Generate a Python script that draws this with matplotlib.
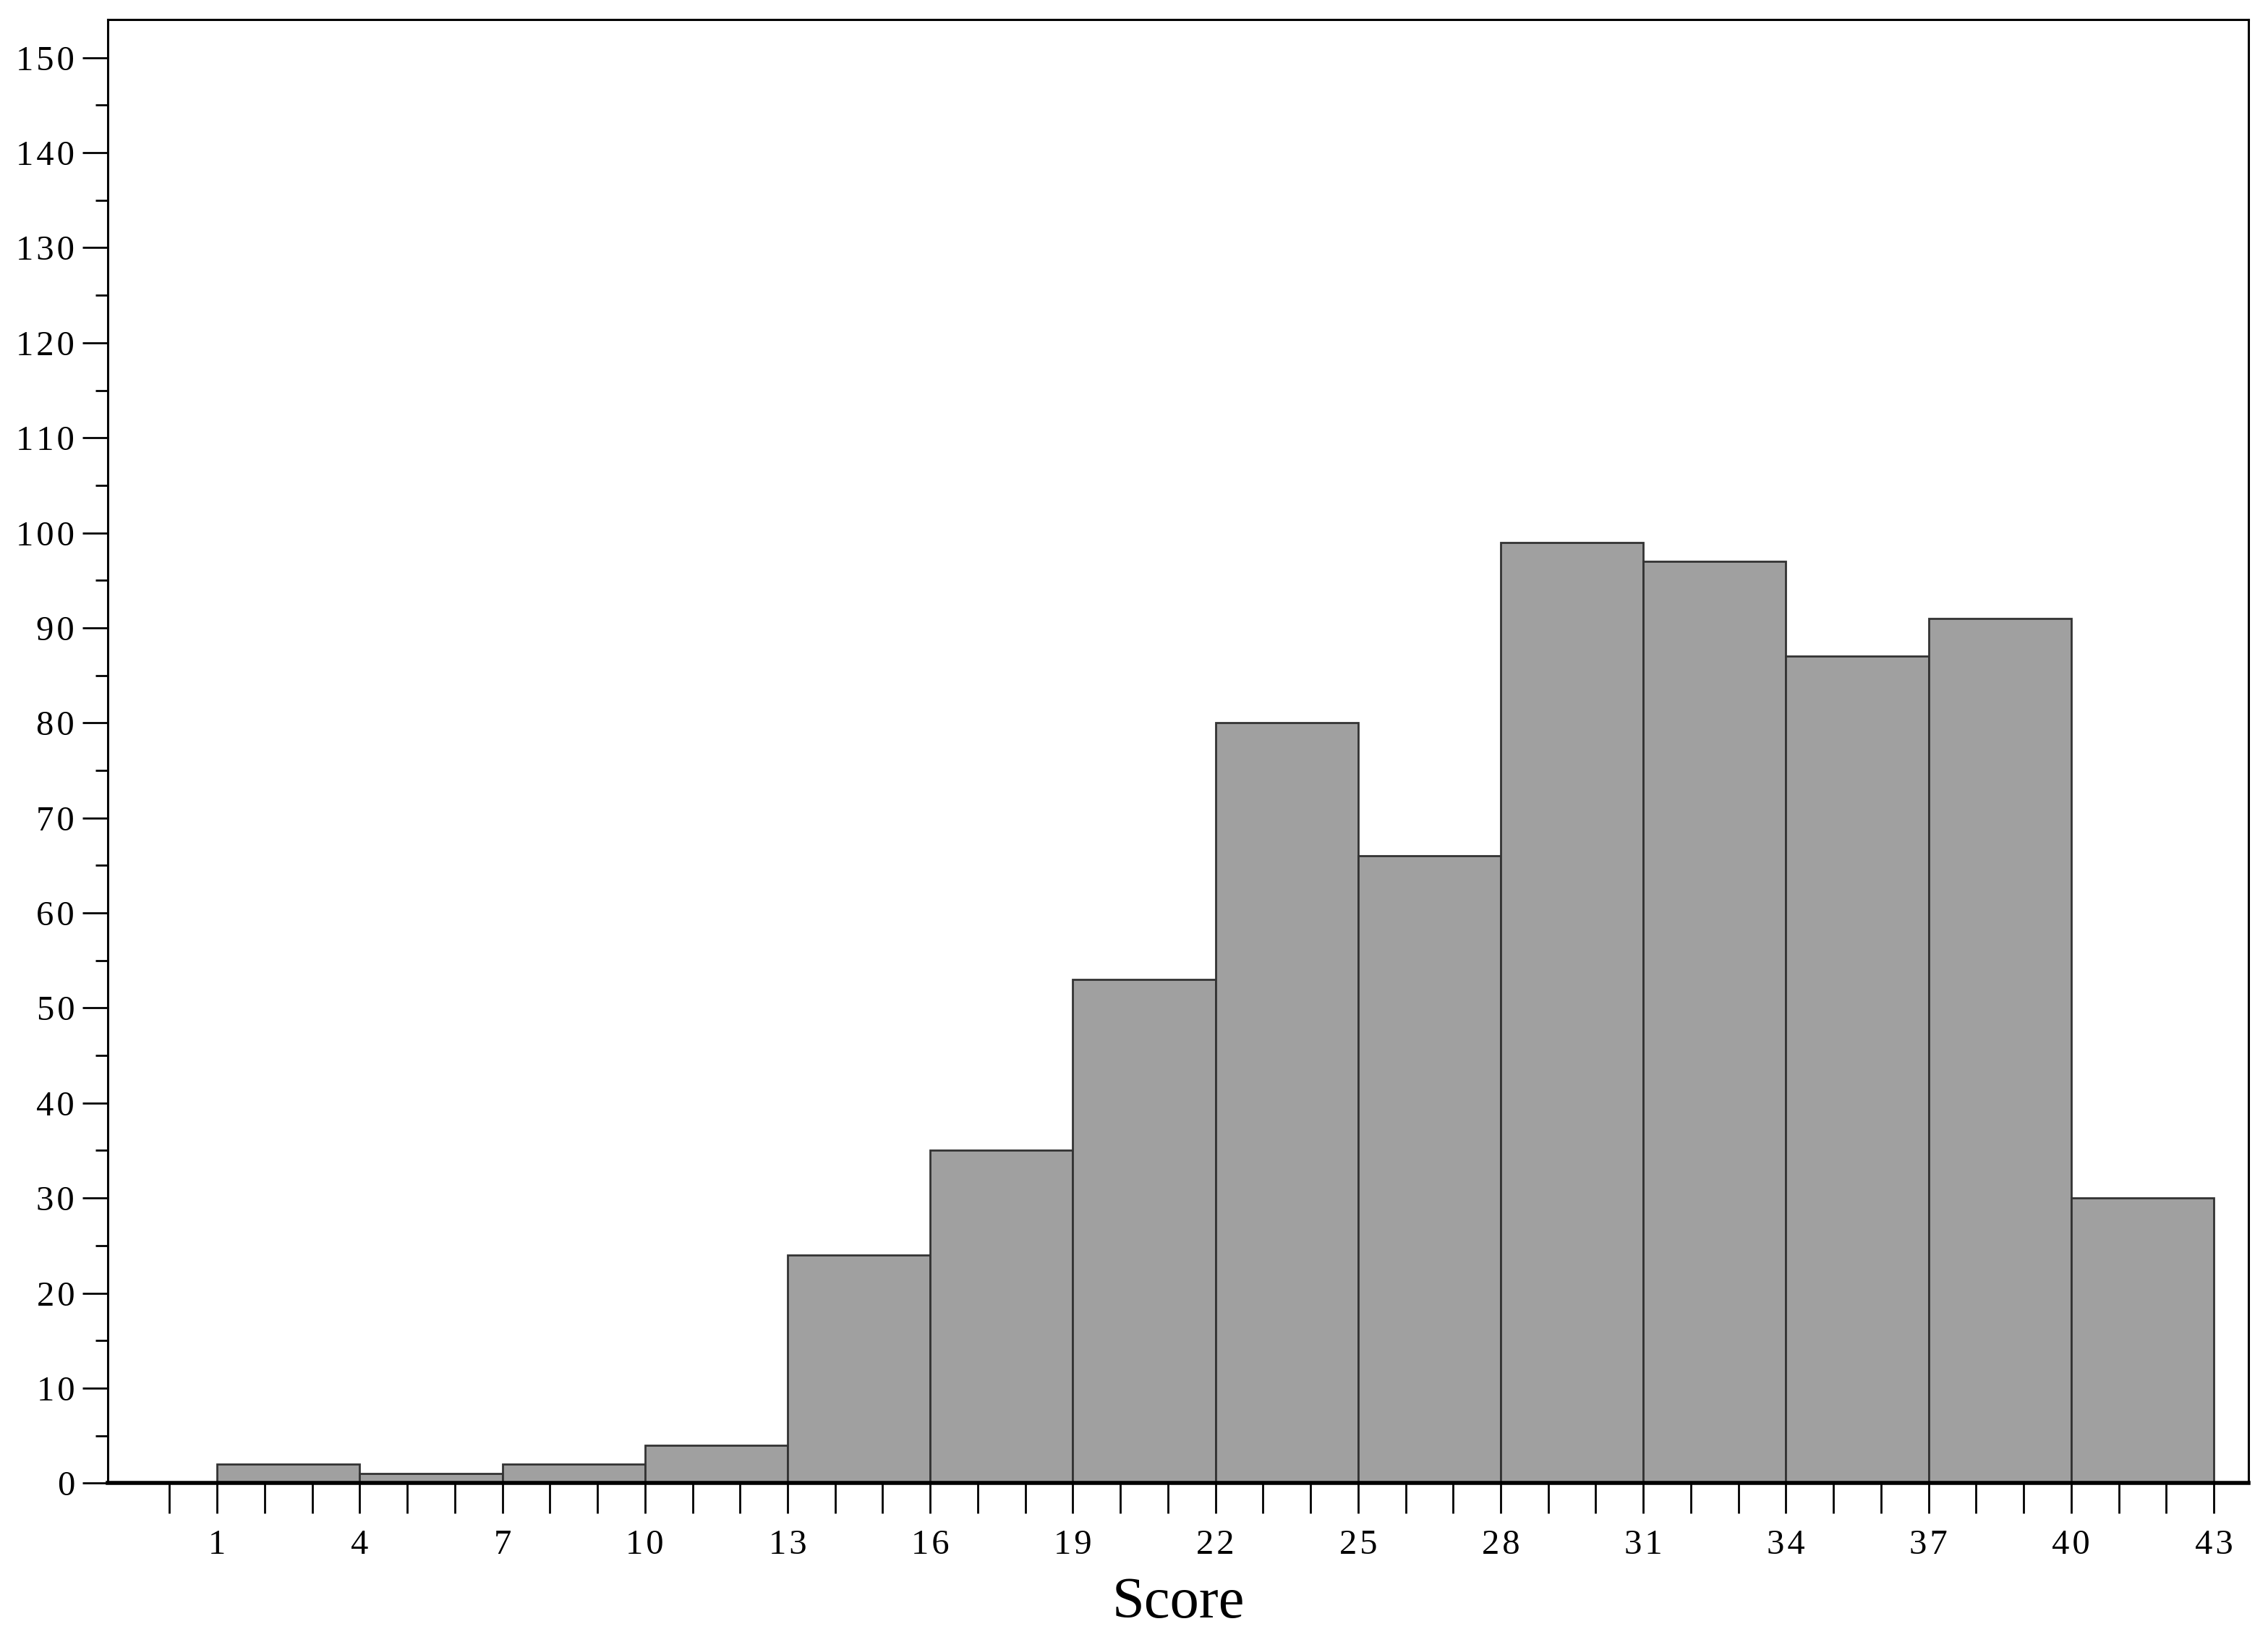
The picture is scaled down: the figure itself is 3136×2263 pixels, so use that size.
import numpy as np
import matplotlib.pyplot as plt
from matplotlib.ticker import MultipleLocator, FixedLocator, FuncFormatter

# histogram bins (width 3) and counts
bin_edges = [1, 4, 7, 10, 13, 16, 19, 22, 25, 28, 31, 34, 37, 40, 43]
counts = [2, 1, 2, 4, 24, 35, 53, 80, 66, 99, 97, 87, 91, 30]
x_ticks = [1, 4, 7, 10, 13, 16, 19, 22, 25, 28, 31, 34, 37, 40, 43]
x_minor = list(range(0, 44))
y_ticks = list(range(0, 151, 10))


def spaced(v, pos):
    # the original labels have loose letter spacing
    return "\u200a".join(str(int(v)))


def main() -> None:
    plt.rcParams["font.family"] = ["Liberation Serif", "DejaVu Serif"]
    fig = plt.figure(figsize=(15.68, 11.315), dpi=200)
    ax = fig.add_axes([0.0475, 0.094, 0.9439, 0.894])

    left = np.array(bin_edges[:-1])
    widths = np.diff(bin_edges)
    ax.bar(left, counts, width=widths, align="edge", color="#a0a0a0",
           edgecolor="#333333", linewidth=1.0, zorder=2)

    ax.set_xlim(-1.3, 43.73)
    ax.set_ylim(0, 154)
    ax.set_xticks(x_ticks)
    ax.set_yticks(y_ticks)
    ax.xaxis.set_minor_locator(FixedLocator(x_minor))
    ax.yaxis.set_minor_locator(MultipleLocator(5))
    ax.xaxis.set_major_formatter(FuncFormatter(spaced))
    ax.yaxis.set_major_formatter(FuncFormatter(spaced))

    ax.tick_params(axis="x", which="both", direction="out", length=15, width=1.0,
                   labelsize=17.5, pad=8)
    ax.tick_params(axis="y", which="major", direction="out", length=12.5, width=1.0,
                   labelsize=17.5, pad=4)
    ax.tick_params(axis="y", which="minor", direction="out", length=6, width=1.0)

    for side in ["left", "right", "top"]:
        ax.spines[side].set_linewidth(1.1)
    ax.spines["bottom"].set_linewidth(2.0)
    ax.spines["bottom"].set_zorder(3)

    ax.set_xlabel("Score", fontsize=29, labelpad=8)

    fig.savefig("out.png", dpi=200)


if __name__ == "__main__":
    main()
